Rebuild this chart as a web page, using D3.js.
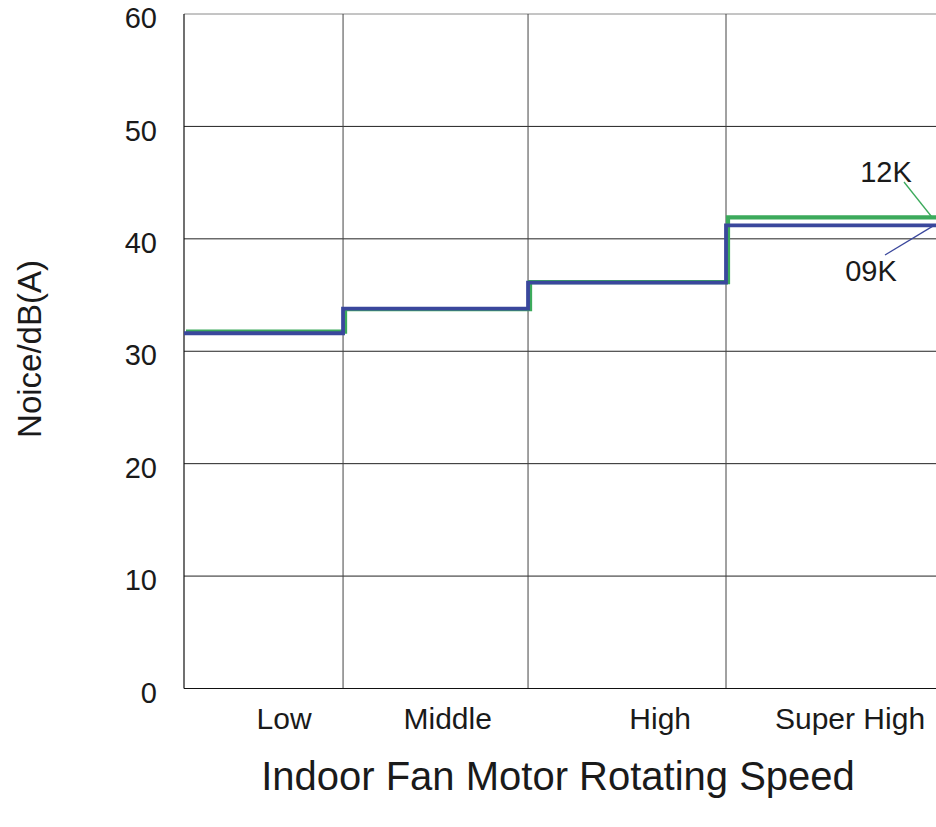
<!DOCTYPE html>
<html>
<head>
<meta charset="utf-8">
<script src="https://cdn.jsdelivr.net/npm/d3@7"></script>
<style>
  html, body { margin: 0; padding: 0; background: #fff; }
  svg text { font-family: "Liberation Sans", Arial, sans-serif; fill: #1a1a1a; }
</style>
</head>
<body>
<svg id="chart" width="936" height="827"></svg>
<script>
// ---- data ----
const categories = ["Low", "Middle", "High", "Super High"];
const bandEdges = [0, 0.846, 1.83, 2.883, 4];      // speed-axis boundaries of each category
const categoryTicks = [0.53, 1.40, 2.53, 3.54];     // where each category label sits
const series09K = [31.6, 33.8, 36.1, 41.2];
const series12K = [31.75, 33.75, 36.15, 41.9];
const yTicks = [0, 10, 20, 30, 40, 50, 60];
const seriesNames = ["09K", "12K"];

(function () {
// ---- layout ----
const svg = d3.select("#chart");
const mLeft = 184, mRight = 936, mTop = 14, mBottom = 688.5;

const x = d3.scaleLinear().domain([0, 4]).range([mLeft, mRight]);
const y = d3.scaleLinear().domain([0, 60]).range([mBottom, mTop]);

// horizontal gridlines
svg.append("g").selectAll("line")
  .data(yTicks.filter(d => d > 0))
  .join("line")
  .attr("x1", mLeft).attr("x2", mRight)
  .attr("y1", d => y(d)).attr("y2", d => y(d))
  .attr("stroke", d => d === 60 ? "#8a8a8a" : "#222")
  .attr("stroke-width", 1);

// vertical gridlines at category boundaries
svg.append("g").selectAll("line")
  .data(bandEdges.slice(1, 4))
  .join("line")
  .attr("x1", d => x(d)).attr("x2", d => x(d))
  .attr("y1", mTop).attr("y2", mBottom)
  .attr("stroke", "#444")
  .attr("stroke-width", 1);

// axes lines
svg.append("line").attr("x1", mLeft).attr("x2", mLeft).attr("y1", mTop).attr("y2", mBottom)
  .attr("stroke", "#111").attr("stroke-width", 1.2);
svg.append("line").attr("x1", mLeft).attr("x2", mRight).attr("y1", mBottom).attr("y2", mBottom)
  .attr("stroke", "#111").attr("stroke-width", 1.2);

// y axis tick labels
const yAxis = d3.axisLeft(y).tickValues(yTicks).tickSize(0).tickPadding(27);
const gy = svg.append("g").attr("transform", `translate(${mLeft},0)`).call(yAxis);
gy.select(".domain").remove();
gy.selectAll("text").style("font-size", "29px").style("font-family", "Liberation Sans, Arial, sans-serif")
  .attr("dy", "0.47em").attr("fill", "#1a1a1a");

// x axis category labels
const xAxis = d3.axisBottom(x).tickValues(categoryTicks)
  .tickFormat((d, i) => categories[i]).tickSize(0).tickPadding(19);
const gx = svg.append("g").attr("transform", `translate(0,${mBottom})`).call(xAxis);
gx.select(".domain").remove();
gx.selectAll("text").style("font-size", "30px").style("font-family", "Liberation Sans, Arial, sans-serif")
  .attr("fill", "#1a1a1a");

// step lines
const stepPoints = vals => vals.map((v, i) => [bandEdges[i], v]).concat([[bandEdges[4], vals[vals.length - 1]]]);
const line = d3.line().x(d => x(d[0])).y(d => y(d[1])).curve(d3.curveStepAfter);

svg.append("path")
  .datum(stepPoints(series12K))
  .attr("d", line)
  .attr("transform", "translate(2,0)")
  .attr("fill", "none")
  .attr("stroke", "#3caa5c")
  .attr("stroke-width", 4.2);

svg.append("path")
  .datum(stepPoints(series09K))
  .attr("d", line)
  .attr("fill", "none")
  .attr("stroke", "#3a479c")
  .attr("stroke-width", 3.8);

// series labels with leader lines
const lastIdx = series09K.length - 1;
svg.append("line")
  .attr("x1", 904).attr("y1", 182)
  .attr("x2", x(3.98)).attr("y2", y(series12K[lastIdx]))
  .attr("stroke", "#3caa5c").attr("stroke-width", 1.3);
svg.append("text").attr("x", 886).attr("y", 182).attr("text-anchor", "middle")
  .style("font-size", "29px").text(seriesNames[1]);

svg.append("line")
  .attr("x1", 885).attr("y1", 255)
  .attr("x2", x(3.99)).attr("y2", y(series09K[lastIdx]))
  .attr("stroke", "#3a479c").attr("stroke-width", 1.3);
svg.append("text").attr("x", 871).attr("y", 281).attr("text-anchor", "middle")
  .style("font-size", "29px").text(seriesNames[0]);

// axis titles
svg.append("text")
  .attr("transform", "translate(41,349) rotate(-90)")
  .attr("text-anchor", "middle")
  .style("font-size", "33px")
  .text("Noice/dB(A)");

svg.append("text")
  .attr("x", 558).attr("y", 790)
  .attr("text-anchor", "middle")
  .style("font-size", "40px")
  .text("Indoor Fan Motor Rotating Speed");
})();
</script>
</body>
</html>
